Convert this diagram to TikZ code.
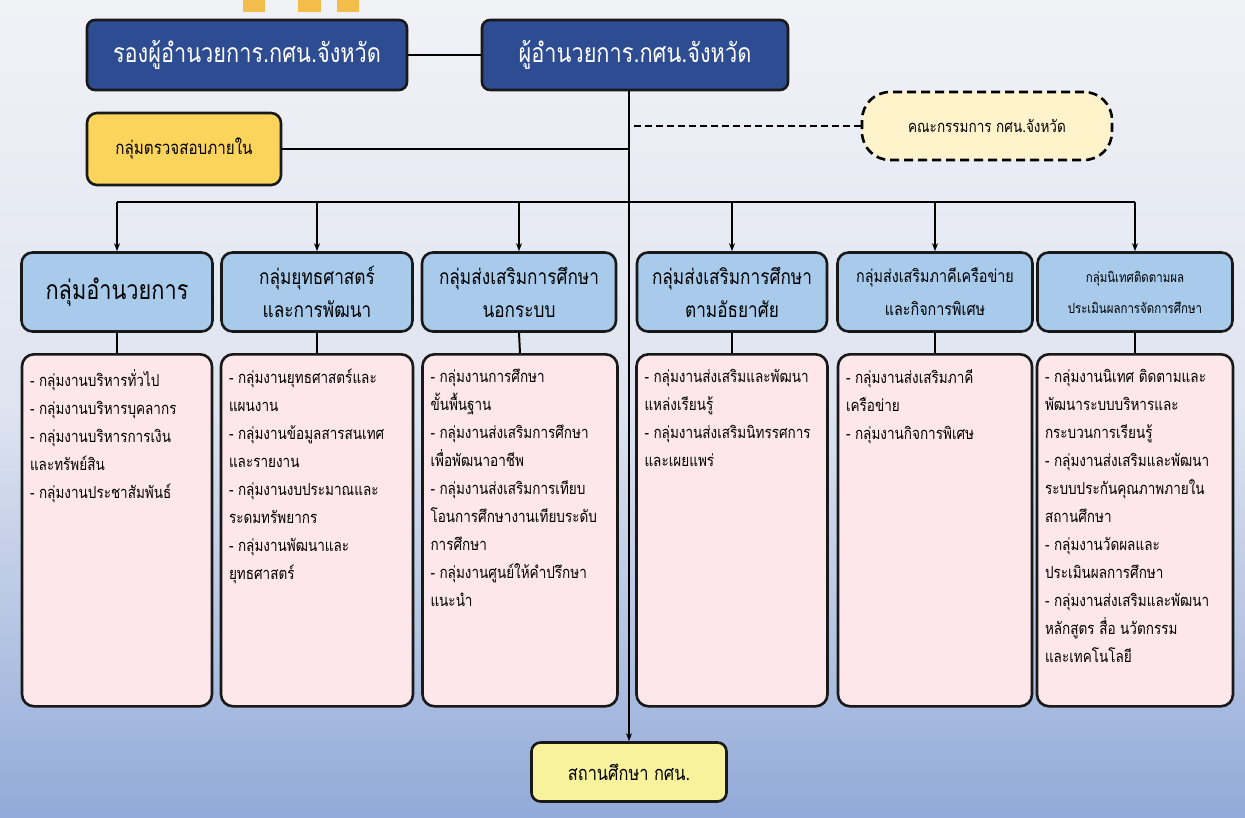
\documentclass[tikz,border=0pt]{standalone}
\usepackage{fontspec}
\newfontfamily\thai[Script=Thai,FakeStretch=0.82]{Loma}
\usetikzlibrary{arrows.meta}
\definecolor{darkblue}{HTML}{2E4C91}
\definecolor{hdrblue}{HTML}{A8CBEC}
\definecolor{pinkbox}{HTML}{FDE7EB}
\definecolor{audity}{HTML}{FBD45C}
\definecolor{committee}{HTML}{FFF3CC}
\definecolor{schooly}{HTML}{F8F29C}
\definecolor{bgtop}{HTML}{F1F2F6}
\definecolor{bgbot}{HTML}{92AAD8}
\definecolor{decor}{HTML}{F4BC4A}
\newcommand{\detailtext}[3]{\parbox[c][#1][t]{#2}{\raggedright\fontsize{16.5}{28}\selectfont\vspace*{7pt}#3}}
\begin{document}
\begin{tikzpicture}[x=1pt,y=-1pt,
  boxline/.style={draw=black!90,line width=2.6pt},
  topbox/.style={boxline,rounded corners=8pt,fill=darkblue,text=white,inner sep=0pt,
    font=\thai\fontsize{26.5}{30}\selectfont,minimum height=70pt},
  hdrbox/.style={boxline,rounded corners=11pt,fill=hdrblue,inner sep=0pt,align=center,
    minimum height=79pt,font=\thai\fontsize{21}{33}\selectfont},
  detbox/.style={boxline,rounded corners=12pt,fill=pinkbox,inner sep=8pt,anchor=north,
    font=\thai},
  conn/.style={draw=black,line width=2pt},
  arr/.style={conn,-{Stealth[length=8pt,width=6pt]}}
]
\useasboundingbox (0,0) rectangle (1245,818);
\shade[top color=bgtop,bottom color=bgbot,middle color=bgtop!80!bgbot] (0,0) rectangle (1245,818);
% decorative bars at top
\fill[decor] (243,0) rectangle (265,12);
\fill[decor] (298,0) rectangle (321,12);
\fill[decor] (337,0) rectangle (359,12);

% top boxes
\node[topbox,minimum width=320pt] (vp) at (247,55) {รองผู้อำนวยการ.กศน.จังหวัด};
\node[topbox,minimum width=306pt] (dir) at (635,55) {ผู้อำนวยการ.กศน.จังหวัด};
\node[boxline,rounded corners=10pt,fill=audity,minimum width=194pt,minimum height=72pt,inner sep=0pt,
  font=\thai\fontsize{18.5}{22}\selectfont] (audit) at (184,149) {กลุ่มตรวจสอบภายใน};
\node[draw=black,line width=2.6pt,dashed,dash pattern=on 9pt off 5pt,rounded corners=28pt,fill=committee,
  minimum width=250pt,minimum height=68pt,inner sep=0pt,font=\thai\fontsize{16.5}{22}\selectfont] (comm) at (987,126) {คณะกรรมการ กศน.จังหวัด};

% bottom box
\node[boxline,rounded corners=9pt,fill=schooly,minimum width=195pt,minimum height=59pt,inner sep=0pt,
  font=\thai\fontsize{20}{24}\selectfont] (school) at (629,772) {สถานศึกษา กศน.};

% header boxes
\node[hdrbox,minimum width=191pt,font=\thai\fontsize{26.5}{30}\selectfont] (h1) at (117,292) {กลุ่มอำนวยการ};
\node[hdrbox,minimum width=191pt] (h2) at (317,292) {กลุ่มยุทธศาสตร์\\และการพัฒนา};
\node[hdrbox,minimum width=194pt] (h3) at (519,292) {กลุ่มส่งเสริมการศึกษา\\นอกระบบ};
\node[hdrbox,minimum width=190pt] (h4) at (732,292) {กลุ่มส่งเสริมการศึกษา\\ตามอัธยาศัย};
\node[hdrbox,minimum width=195pt,font=\thai\fontsize{17.5}{33}\selectfont] (h5) at (935,292) {กลุ่มส่งเสริมภาคีเครือข่าย\\และกิจการพิเศษ};
\node[hdrbox,minimum width=195pt,font=\thai\fontsize{14}{31}\selectfont] (h6) at (1135,292) {กลุ่มนิเทศติดตามผล\\ประเมินผลการจัดการศึกษา};

% detail boxes
\node[detbox] (d1) at (117,353) {\detailtext{336pt}{174pt}{%
- กลุ่มงานบริหารทั่วไป\\
- กลุ่มงานบริหารบุคลากร\\
- กลุ่มงานบริหารการเงิน\\
และทรัพย์สิน\\
- กลุ่มงานประชาสัมพันธ์}};
\node[detbox] (d2) at (317,353) {\detailtext{336pt}{176pt}{%
- กลุ่มงานยุทธศาสตร์และ\\
แผนงาน\\
- กลุ่มงานข้อมูลสารสนเทศ\\
และรายงาน\\
- กลุ่มงานงบประมาณและ\\
ระดมทรัพยากร\\
- กลุ่มงานพัฒนาและ\\
ยุทธศาสตร์}};
\node[detbox] (d3) at (520,353) {\detailtext{336pt}{179pt}{%
- กลุ่มงานการศึกษา\\
ขั้นพื้นฐาน\\
- กลุ่มงานส่งเสริมการศึกษา\\
เพื่อพัฒนาอาชีพ\\
- กลุ่มงานส่งเสริมการเทียบ\\
โอนการศึกษางานเทียบระดับ\\
การศึกษา\\
- กลุ่มงานศูนย์ให้คำปรึกษา\\
แนะนำ}};
\node[detbox] (d4) at (732,353) {\detailtext{336pt}{175pt}{%
- กลุ่มงานส่งเสริมและพัฒนา\\
แหล่งเรียนรู้\\
- กลุ่มงานส่งเสริมนิทรรศการ\\
และเผยแพร่}};
\node[detbox] (d5) at (935,353) {\detailtext{336pt}{178pt}{%
- กลุ่มงานส่งเสริมภาคี\\
เครือข่าย\\
- กลุ่มงานกิจการพิเศษ}};
\node[detbox] (d6) at (1135,353) {\detailtext{336pt}{180pt}{%
- กลุ่มงานนิเทศ ติดตามและ\\
พัฒนาระบบบริหารและ\\
กระบวนการเรียนรู้\\
- กลุ่มงานส่งเสริมและพัฒนา\\
ระบบประกันคุณภาพภายใน\\
สถานศึกษา\\
- กลุ่มงานวัดผลและ\\
ประเมินผลการศึกษา\\
- กลุ่มงานส่งเสริมและพัฒนา\\
หลักสูตร สื่อ นวัตกรรม\\
และเทคโนโลยี}};

% connectors
\coordinate (bus) at (0,202);
\draw[conn] (vp.east) -- (dir.west);
\draw[arr] (school.north |- dir.south) -- (school.north);
\draw[conn] (audit.east) -- (audit.east -| school.north);
\draw[conn,dashed,dash pattern=on 7pt off 4pt] (comm.west) -- (comm.west -| school.north);
\draw[conn] (h1.north |- bus) -- (h6.north |- bus);
\foreach \h in {h1,h2,h3,h4,h5,h6}{\draw[arr] (\h.north |- bus) -- (\h.north);}
\draw[conn] (h1.south) -- (d1.north);
\draw[conn] (h2.south) -- (d2.north);
\draw[conn] (h3.south) -- (d3.north);
\draw[conn] (h4.south) -- (d4.north);
\draw[conn] (h5.south) -- (d5.north);
\draw[conn] (h6.south) -- (d6.north);
\end{tikzpicture}
\end{document}
